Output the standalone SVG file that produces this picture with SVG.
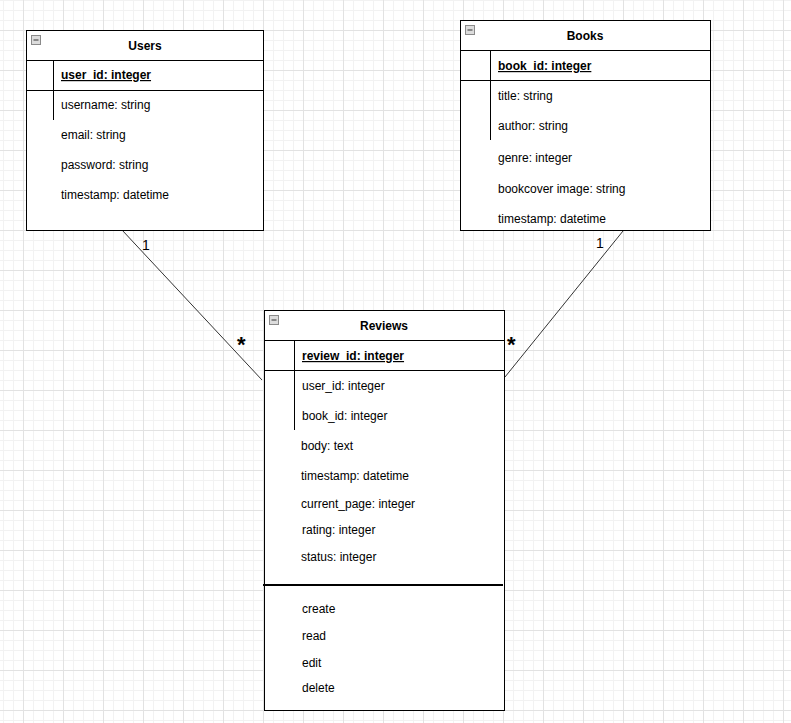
<svg xmlns="http://www.w3.org/2000/svg" width="791" height="723" viewBox="0 0 791 723">
<defs>
<pattern id="minor" x="3" y="0" width="10" height="10" patternUnits="userSpaceOnUse">
<path d="M0.5 0V10M0 0.5H10" stroke="#f2f2f2" stroke-width="1" fill="none"/>
</pattern>
<pattern id="major" x="23" y="30" width="40" height="40" patternUnits="userSpaceOnUse">
<path d="M0.5 0V40M0 0.5H40" stroke="#e2e2e2" stroke-width="1" fill="none"/>
</pattern>
<g id="minus">
<rect x="0.5" y="0.5" width="9" height="9" fill="#dcdcdc" stroke="#8a8a8a"/>
<path d="M2.5 5H7.5" stroke="#333" stroke-width="1"/>
</g>
</defs>
<style>
.box{fill:#fff;stroke:#000;stroke-width:1}
.ln{stroke:#000;stroke-width:1;fill:none}
.t{font-family:"Liberation Sans",Arial,sans-serif;font-size:12px;fill:#000}
.h{font-family:"Liberation Sans",Arial,sans-serif;font-size:12px;font-weight:bold;fill:#000;text-anchor:middle}
.pk{font-weight:bold;text-decoration:underline}
.lbl{font-family:"Liberation Sans",Arial,sans-serif;fill:#000}
.conn{stroke:#333;stroke-width:1;fill:none}
</style>
<rect width="791" height="723" fill="#fff"/>
<rect width="791" height="723" fill="url(#minor)"/>
<rect width="791" height="723" fill="url(#major)"/>

<g id="connectors">
<path class="conn" d="M122 230L262 380"/>
<path class="conn" d="M623 231L505 377"/>
<text class="lbl" x="142" y="250" font-size="14">1</text>
<text class="lbl" x="237" y="352" font-size="22" font-weight="bold">*</text>
<text class="lbl" x="596" y="248" font-size="14">1</text>
<text class="lbl" x="507" y="352" font-size="22" font-weight="bold">*</text>
</g>

<g id="users">
<rect class="box" x="26.5" y="30.5" width="237" height="200"/>
<use href="#minus" x="31" y="35"/>
<text class="h" x="145" y="50">Users</text>
<path class="ln" d="M26.5 60.5H263.5M26.5 90.5H263.5M53.5 60.5V120"/>
<text class="t pk" x="61" y="79">user_id: integer</text>
<text class="t" x="61" y="109">username: string</text>
<text class="t" x="61" y="139">email: string</text>
<text class="t" x="61" y="169">password: string</text>
<text class="t" x="61" y="199">timestamp: datetime</text>
</g>

<g id="books">
<rect class="box" x="460.5" y="20.5" width="250" height="210"/>
<use href="#minus" x="465" y="25"/>
<text class="h" x="585" y="40">Books</text>
<path class="ln" d="M460.5 50.5H710.5M460.5 80.5H710.5M490.5 50.5V140"/>
<text class="t pk" x="498" y="70">book_id: integer</text>
<text class="t" x="498" y="100">title: string</text>
<text class="t" x="498" y="130">author: string</text>
<text class="t" x="498" y="162">genre: integer</text>
<text class="t" x="498" y="193">bookcover image: string</text>
<text class="t" x="498" y="223">timestamp: datetime</text>
</g>

<g id="reviews">
<rect class="box" x="264.5" y="310.5" width="240" height="400"/>
<use href="#minus" x="269" y="315"/>
<text class="h" x="384" y="330">Reviews</text>
<path class="ln" d="M264.5 340.5H504.5M264.5 370.5H504.5M294.5 340.5V430"/>
<text class="t pk" x="302" y="360">review_id: integer</text>
<text class="t" x="302" y="390">user_id: integer</text>
<text class="t" x="302" y="420">book_id: integer</text>
<text class="t" x="301" y="450">body: text</text>
<text class="t" x="301" y="480">timestamp: datetime</text>
<text class="t" x="301" y="508">current_page: integer</text>
<text class="t" x="302" y="534">rating: integer</text>
<text class="t" x="301" y="561">status: integer</text>
<path d="M263 585H503" stroke="#000" stroke-width="2"/>
<text class="t" x="302" y="613">create</text>
<text class="t" x="302" y="640">read</text>
<text class="t" x="302" y="667">edit</text>
<text class="t" x="302" y="692">delete</text>
</g>
</svg>
